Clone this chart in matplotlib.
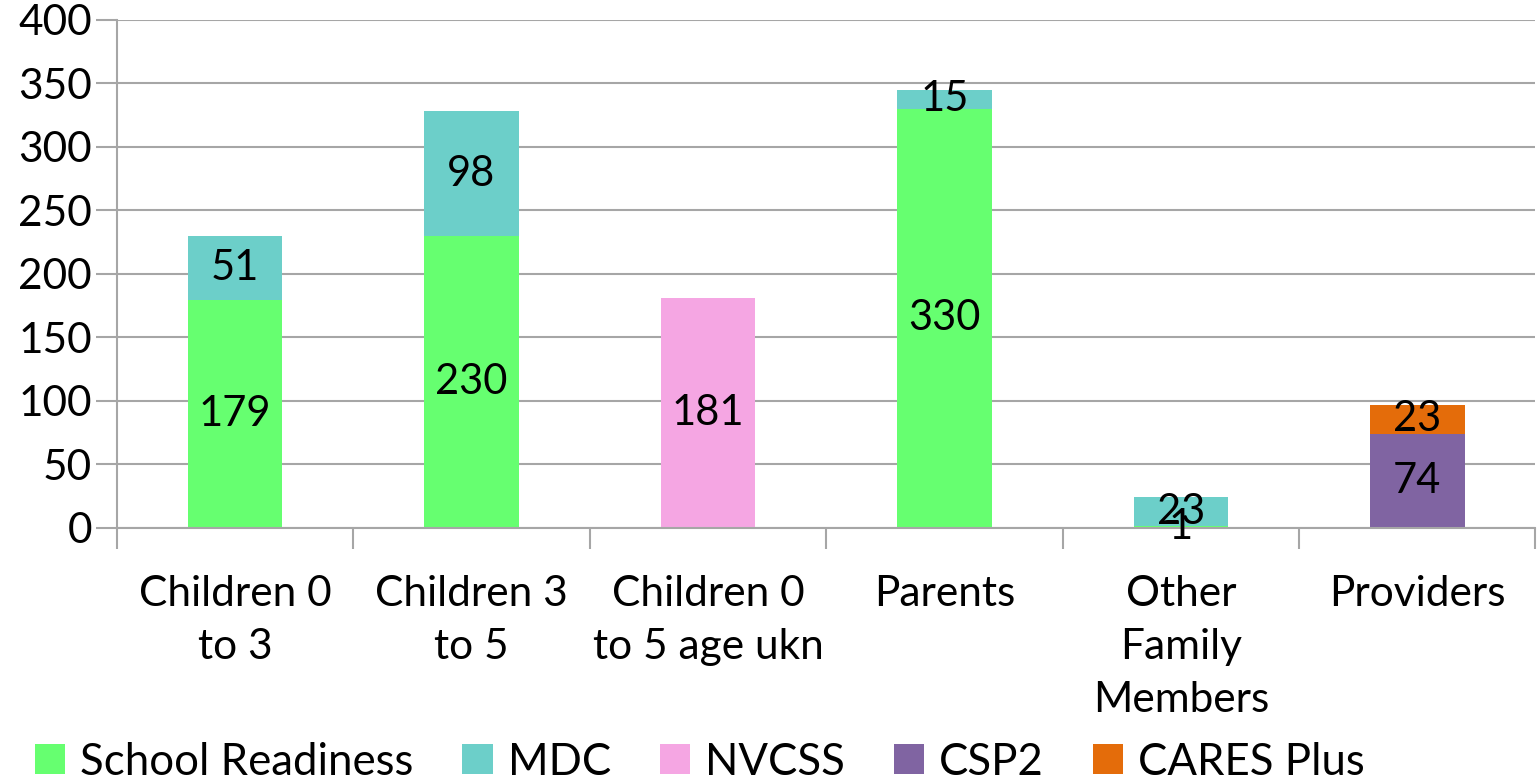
import numpy as np
import matplotlib.pyplot as plt

categories = ["Children 0\nto 3", "Children 3\nto 5", "Children 0\nto 5 age ukn",
              "Parents", "Other\nFamily\nMembers", "Providers"]
series_names = ["School Readiness", "MDC", "NVCSS", "CSP2", "CARES Plus"]
school_readiness = [179, 230, 0, 330, 1, 0]
mdc = [51, 98, 0, 15, 23, 0]
nvcss = [0, 0, 181, 0, 0, 0]
csp2 = [0, 0, 0, 0, 0, 74]
cares_plus = [0, 0, 0, 0, 0, 23]
colors = ["#66FF70", "#6CCFC9", "#F5A6E3", "#8064A2", "#E46C0A"]

plt.rcParams['font.family'] = ['Lato', 'DejaVu Sans']

fig = plt.figure(figsize=(15.37, 7.84), dpi=100)
ax = fig.add_axes([0.076, 0.327, 0.923, 0.6475])

x = np.arange(len(categories))
bottom = np.zeros(len(categories))
for name, vals, col in zip(series_names,
                           [school_readiness, mdc, nvcss, csp2, cares_plus], colors):
    vals = np.array(vals, dtype=float)
    ax.bar(x, vals, width=0.4, bottom=bottom, color=col, label=name, zorder=2)
    for xi, b, v in zip(x, bottom, vals):
        if v > 0:
            ax.text(xi, b + v / 2, f"{int(v)}", ha='center', va='center',
                    fontsize=30, zorder=3)
    bottom += vals

ax.set_xlim(-0.5, len(categories) - 0.5)
ax.set_ylim(0, 400)
ax.set_yticks(range(0, 401, 50))
ax.grid(axis='y', color='#A6A6A6', linewidth=1.5, zorder=0)
ax.tick_params(axis='y', labelsize=30.5, length=15, width=1.5, color='#A6A6A6', pad=3)

# category labels centred, tick marks between categories
ax.set_xticks(x)
ax.set_xticklabels(categories, fontsize=30.5, linespacing=1.49)
ax.tick_params(axis='x', length=0, pad=34)
ax.set_xticks(np.arange(-0.5, len(categories), 1), minor=True)
ax.tick_params(axis='x', which='minor', length=15, width=1.5, color='#A6A6A6')

for s in ['top', 'right']:
    ax.spines[s].set_visible(False)
for s in ['left', 'bottom']:
    ax.spines[s].set_color('#A6A6A6')
    ax.spines[s].set_linewidth(1.5)

fig.legend(loc='center left', bbox_to_anchor=(0.0228, 0.028), ncol=5, frameon=False,
           fontsize=31.5, handlelength=0.69, handleheight=0.69, handletextpad=0.34,
           columnspacing=1.12, borderpad=0, borderaxespad=0)

fig.savefig("out.png", dpi=100)
